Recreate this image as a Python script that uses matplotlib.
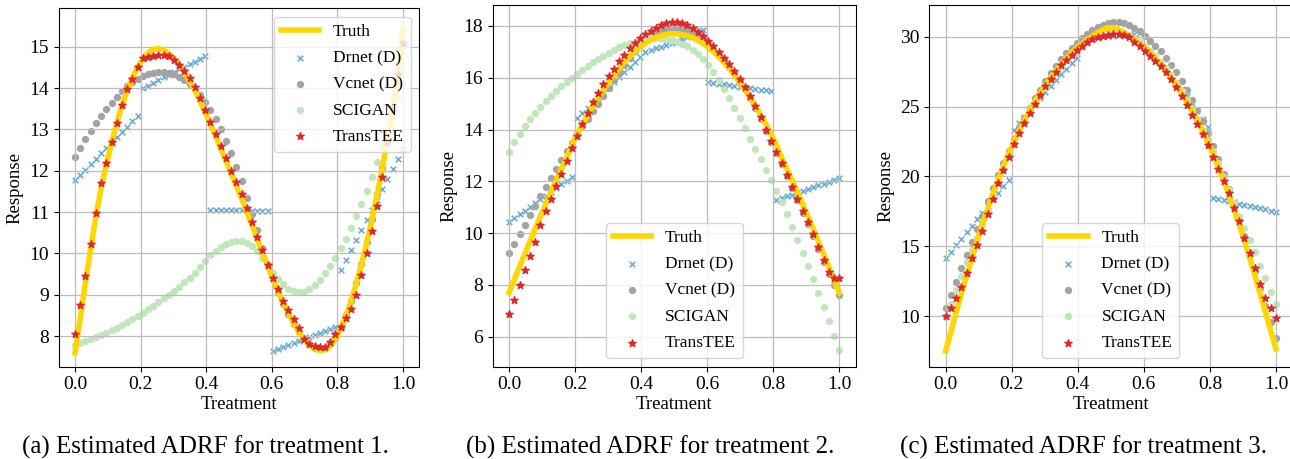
import numpy as np
import matplotlib.pyplot as plt

plt.rcParams['font.family'] = ['Liberation Serif', 'DejaVu Serif']

# treatment grid (64 evenly spaced doses)
treatment = np.linspace(0, 1, 64)

# ---- treatment 1 ----
truth_1 = [7.60, 8.45, 9.30, 10.12, 10.90, 11.58, 12.15, 12.68,
           13.15, 13.57, 13.95, 14.25, 14.50, 14.70, 14.85, 14.93,
           14.96, 14.92, 14.83, 14.72, 14.57, 14.39, 14.18, 13.95,
           13.69, 13.42, 13.13, 12.84, 12.54, 12.24, 11.93, 11.63,
           11.33, 11.01, 10.68, 10.35, 10.02, 9.70, 9.38, 9.08,
           8.80, 8.55, 8.31, 8.10, 7.92, 7.78, 7.69, 7.65,
           7.67, 7.76, 7.93, 8.17, 8.47, 8.83, 9.25, 9.72,
           10.24, 10.80, 11.40, 12.04, 12.72, 13.44, 14.35, 15.45]
drnet_1 = [11.77, 11.90, 12.03, 12.16, 12.29, 12.42, 12.55, 12.68,
           12.81, 12.94, 13.07, 13.20, 13.33, 14.00, 14.06, 14.13,
           14.19, 14.26, 14.32, 14.38, 14.45, 14.51, 14.58, 14.64,
           14.70, 14.77, 11.06, 11.06, 11.05, 11.05, 11.05, 11.04,
           11.04, 11.04, 11.03, 11.03, 11.03, 11.02, 7.65, 7.70,
           7.74, 7.79, 7.84, 7.89, 7.94, 7.98, 8.03, 8.08,
           8.13, 8.17, 8.22, 9.60, 9.84, 10.08, 10.32, 10.57,
           10.81, 11.06, 11.30, 11.55, 11.80, 12.04, 12.28, 12.53]
vcnet_1 = [12.34, 12.56, 12.77, 12.96, 13.15, 13.33, 13.49, 13.65,
           13.79, 13.93, 14.05, 14.15, 14.23, 14.30, 14.34, 14.37,
           14.40, 14.40, 14.37, 14.33, 14.28, 14.20, 14.10, 13.98,
           13.83, 13.66, 13.47, 13.25, 13.00, 12.72, 12.42, 12.10,
           11.76, 11.35, 10.95, 10.56, 10.12, 9.72, 9.38, 9.06,
           8.78, 8.53, 8.30, 8.10, 7.93, 7.80, 7.72, 7.70,
           7.72, 7.80, 7.96, 8.20, 8.50, 8.86, 9.28, 9.75,
           10.27, 10.83, 11.43, 12.07, 12.75, 13.47, 14.25, 15.05]
scigan_1 = [7.78, 7.83, 7.87, 7.92, 7.97, 8.02, 8.08, 8.14,
            8.20, 8.27, 8.34, 8.41, 8.49, 8.57, 8.65, 8.73,
            8.82, 8.91, 9.00, 9.10, 9.20, 9.30, 9.41, 9.52,
            9.68, 9.82, 9.95, 10.06, 10.15, 10.22, 10.27, 10.30,
            10.30, 10.26, 10.18, 10.05, 9.88, 9.70, 9.53, 9.38,
            9.25, 9.15, 9.09, 9.06, 9.07, 9.13, 9.23, 9.36,
            9.52, 9.70, 9.90, 10.12, 10.36, 10.62, 10.90, 11.20,
            11.52, 11.86, 12.22, 12.60, 12.98, 13.36, 13.75, 14.12]
transtee_1 = [8.04, 8.75, 9.45, 10.22, 10.98, 11.70, 12.19, 12.69,
              13.16, 13.58, 13.97, 14.22, 14.50, 14.72, 14.76, 14.78,
              14.79, 14.81, 14.78, 14.68, 14.56, 14.41, 14.24, 14.03,
              13.77, 13.48, 13.18, 12.90, 12.60, 12.31, 12.00, 11.72,
              11.43, 11.09, 10.75, 10.40, 10.08, 9.73, 9.41, 9.13,
              8.85, 8.63, 8.41, 8.19, 7.94, 7.82, 7.77, 7.74,
              7.74, 7.86, 8.04, 8.23, 8.43, 8.65, 9.00, 9.49,
              10.00, 10.54, 11.14, 11.85, 12.70, 13.55, 14.34, 15.08]

# ---- treatment 2 ----
truth_2 = [7.70, 8.20, 8.70, 9.19, 9.68, 10.17, 10.65, 11.12,
           11.58, 12.04, 12.48, 12.91, 13.40, 13.82, 14.20, 14.56,
           14.90, 15.22, 15.53, 15.82, 16.10, 16.36, 16.60, 16.81,
           17.01, 17.18, 17.33, 17.45, 17.55, 17.62, 17.67, 17.70,
           17.70, 17.67, 17.62, 17.55, 17.45, 17.33, 17.18, 17.01,
           16.81, 16.60, 16.36, 16.10, 15.82, 15.53, 15.22, 14.90,
           14.56, 14.20, 13.82, 13.40, 12.91, 12.48, 12.04, 11.58,
           11.12, 10.65, 10.17, 9.68, 9.19, 8.70, 8.20, 7.70]
drnet_2 = [10.44, 10.58, 10.73, 10.87, 11.02, 11.16, 11.30, 11.45,
           11.59, 11.73, 11.88, 12.02, 12.17, 14.43, 14.63, 14.83,
           15.03, 15.23, 15.43, 15.62, 15.82, 16.02, 16.22, 16.42,
           16.61, 16.80, 17.00, 17.06, 17.13, 17.20, 17.27, 17.34,
           17.42, 17.50, 17.58, 17.66, 17.75, 17.83, 15.83, 15.80,
           15.77, 15.74, 15.71, 15.68, 15.66, 15.63, 15.60, 15.57,
           15.54, 15.51, 15.48, 11.28, 11.35, 11.42, 11.49, 11.56,
           11.63, 11.70, 11.77, 11.84, 11.91, 11.98, 12.05, 12.12]
vcnet_2 = [9.22, 9.58, 9.95, 10.33, 10.70, 11.06, 11.42, 11.78,
           12.13, 12.48, 12.82, 13.16, 13.49, 13.81, 14.12, 14.42,
           14.71, 15.00, 15.30, 15.60, 15.90, 16.20, 16.50, 16.78,
           17.05, 17.28, 17.47, 17.63, 17.76, 17.85, 17.90, 17.92,
           17.92, 17.89, 17.84, 17.76, 17.65, 17.50, 17.32, 17.12,
           16.90, 16.68, 16.43, 16.17, 15.88, 15.57, 15.22, 14.85,
           14.42, 13.96, 13.53, 13.10, 12.66, 12.20, 11.74, 11.26,
           10.79, 10.35, 9.87, 9.38, 8.90, 8.43, 8.00, 7.62]
scigan_2 = [13.12, 13.50, 13.83, 14.13, 14.40, 14.65, 14.88, 15.10,
            15.30, 15.50, 15.68, 15.85, 16.00, 16.15, 16.30, 16.45,
            16.59, 16.72, 16.85, 16.97, 17.08, 17.18, 17.27, 17.34,
            17.40, 17.45, 17.49, 17.52, 17.53, 17.52, 17.50, 17.46,
            17.40, 17.32, 17.22, 17.08, 16.92, 16.72, 16.50, 16.22,
            15.92, 15.58, 15.22, 14.84, 14.45, 14.05, 13.65, 13.25,
            12.85, 12.45, 12.05, 11.63, 11.20, 10.72, 10.23, 9.74,
            9.24, 8.73, 8.21, 7.70, 7.16, 6.60, 6.02, 5.47]
transtee_2 = [6.86, 7.42, 8.00, 8.58, 9.12, 9.64, 10.32, 10.85,
              11.30, 11.80, 12.30, 12.80, 13.30, 13.75, 14.20, 14.65,
              15.05, 15.42, 15.75, 16.06, 16.35, 16.63, 16.89, 17.13,
              17.34, 17.52, 17.68, 17.82, 17.93, 18.03, 18.12, 18.15,
              18.14, 18.10, 18.02, 17.92, 17.77, 17.60, 17.41, 17.21,
              17.00, 16.77, 16.52, 16.25, 15.97, 15.65, 15.30, 14.92,
              14.47, 13.99, 13.55, 13.12, 12.69, 12.24, 11.78, 11.30,
              10.84, 10.42, 9.95, 9.47, 8.96, 8.50, 8.25, 8.25]

# ---- treatment 3 ----
truth_3 = [7.50, 8.90, 10.30, 11.60, 12.90, 14.15, 15.40, 16.55,
           17.65, 18.75, 19.75, 20.70, 21.60, 22.45, 23.25, 24.00,
           24.70, 25.35, 25.95, 26.50, 27.05, 27.55, 28.00, 28.45,
           28.85, 29.20, 29.50, 29.80, 30.05, 30.30, 30.50, 30.65,
           30.65, 30.50, 30.30, 30.05, 29.80, 29.50, 29.20, 28.85,
           28.45, 28.00, 27.55, 27.05, 26.50, 25.95, 25.35, 24.70,
           24.00, 23.25, 22.45, 21.60, 20.70, 19.75, 18.75, 17.65,
           16.55, 15.40, 14.15, 12.90, 11.60, 10.30, 8.95, 7.65]
drnet_3 = [14.13, 14.60, 15.07, 15.54, 16.00, 16.47, 16.94, 17.41,
           17.88, 18.35, 18.81, 19.28, 19.75, 23.35, 23.80, 24.25,
           24.70, 25.15, 25.60, 26.05, 26.50, 26.90, 27.30, 27.70,
           28.10, 28.45, 29.45, 29.65, 29.82, 29.95, 30.02, 30.06,
           30.08, 30.10, 30.12, 30.15, 30.20, 30.30, 29.20, 28.85,
           28.45, 28.05, 27.62, 27.18, 26.72, 26.25, 25.75, 25.22,
           24.68, 24.12, 23.55, 18.47, 18.39, 18.30, 18.22, 18.14,
           18.05, 17.97, 17.89, 17.80, 17.72, 17.64, 17.55, 17.47]
vcnet_3 = [10.55, 11.50, 12.45, 13.42, 14.40, 15.33, 16.27, 17.20,
           18.25, 19.20, 20.10, 20.95, 21.80, 22.65, 23.45, 24.20,
           24.90, 25.58, 26.22, 26.82, 27.38, 27.90, 28.38, 28.82,
           29.22, 29.58, 29.90, 30.20, 30.45, 30.67, 30.85, 30.98,
           31.05, 31.05, 30.98, 30.85, 30.65, 30.38, 30.05, 29.68,
           29.35, 28.95, 28.50, 28.00, 27.45, 26.85, 26.20, 25.50,
           24.75, 23.95, 23.10, 22.20, 21.25, 20.20, 19.10, 17.95,
           16.85, 15.70, 14.50, 13.25, 12.00, 10.75, 9.55, 8.45]
scigan_3 = [9.95, 10.90, 11.90, 12.90, 13.85, 14.75, 15.60, 16.55,
            17.55, 18.60, 19.60, 20.55, 21.45, 22.30, 23.10, 23.85,
            24.55, 25.20, 25.80, 26.35, 26.90, 27.40, 27.85, 28.30,
            28.70, 29.05, 29.35, 29.65, 29.90, 30.10, 30.25, 30.35,
            30.40, 30.35, 30.25, 30.10, 29.90, 29.65, 29.35, 29.00,
            28.60, 28.20, 27.75, 27.25, 26.70, 26.10, 25.45, 24.80,
            24.10, 23.35, 22.60, 21.80, 20.95, 19.95, 19.05, 18.10,
            17.20, 16.30, 15.45, 14.60, 13.60, 12.70, 11.75, 10.86]
transtee_3 = [10.00, 10.55, 11.30, 12.10, 13.10, 14.13, 15.08, 16.10,
              17.30, 18.40, 19.50, 20.45, 21.40, 22.30, 23.10, 23.85,
              24.55, 25.20, 25.85, 26.45, 27.00, 27.50, 27.95, 28.35,
              28.70, 29.05, 29.35, 29.62, 29.85, 30.00, 30.08, 30.13,
              30.17, 30.19, 30.12, 29.95, 29.65, 29.30, 28.98, 28.62,
              28.27, 27.88, 27.47, 26.95, 26.42, 25.78, 25.08, 24.40,
              23.75, 23.05, 22.25, 21.40, 20.55, 19.70, 18.80, 17.75,
              16.78, 15.60, 14.50, 13.44, 12.30, 11.30, 10.55, 9.85]

captions = ["(a) Estimated ADRF for treatment 1.",
            "(b) Estimated ADRF for treatment 2.",
            "(c) Estimated ADRF for treatment 3."]


def draw_panel(ax, truth, drnet, vcnet, scigan, transtee, loc):
    ax.plot(treatment, truth, color='#ffd700', lw=4, label='Truth', zorder=2)
    ax.scatter(treatment, drnet, marker='x', s=16, lw=1.2, color='#6baed6',
               label='Drnet (D)', zorder=1)
    ax.scatter(treatment, vcnet, marker='o', s=18, color='#a3a3a3',
               label='Vcnet (D)', zorder=1)
    ax.scatter(treatment, scigan, marker='o', s=18, color='#c2e6bc',
               label='SCIGAN', zorder=1)
    ax.scatter(treatment, transtee, marker='*', s=30, color='#e0282a',
               label='TransTEE', zorder=3)
    ax.grid(True, color='#bcbcbc', lw=0.9)
    ax.set_xticks([0.0, 0.2, 0.4, 0.6, 0.8, 1.0])
    ax.tick_params(labelsize=14)
    ax.set_xlabel('Treatment', fontsize=13.5, labelpad=1.5)
    ax.set_ylabel('Response', fontsize=13.5)
    ax.legend(loc=loc, fontsize=12.5, handlelength=2.2, borderpad=0.4,
              labelspacing=0.58)


fig = plt.figure(figsize=(12.9, 4.59), dpi=100)

ax1 = fig.add_axes([0.0455, 0.2011, 0.2796, 0.7808])
draw_panel(ax1, truth_1, drnet_1, vcnet_1, scigan_1, transtee_1, 'upper right')
ax1.set_xlim(-0.05, 1.05)
ax1.set_ylim(7.26, 15.93)

ax2 = fig.add_axes([0.3818, 0.2011, 0.2816, 0.7880])
draw_panel(ax2, truth_2, drnet_2, vcnet_2, scigan_2, transtee_2, 'lower center')
ax2.set_xlim(-0.05, 1.05)
ax2.set_ylim(4.84, 18.81)
ax2.set_yticks([6, 8, 10, 12, 14, 16, 18])

ax3 = fig.add_axes([0.7203, 0.2011, 0.2816, 0.7880])
draw_panel(ax3, truth_3, drnet_3, vcnet_3, scigan_3, transtee_3, 'lower center')
ax3.set_xlim(-0.05, 1.05)
ax3.set_ylim(6.38, 32.27)

for xc, cap in zip([0.159, 0.504, 0.840], captions):
    fig.text(xc, 0.026, cap, ha='center', va='center', fontsize=18)

fig.savefig('out.png', dpi=100)
